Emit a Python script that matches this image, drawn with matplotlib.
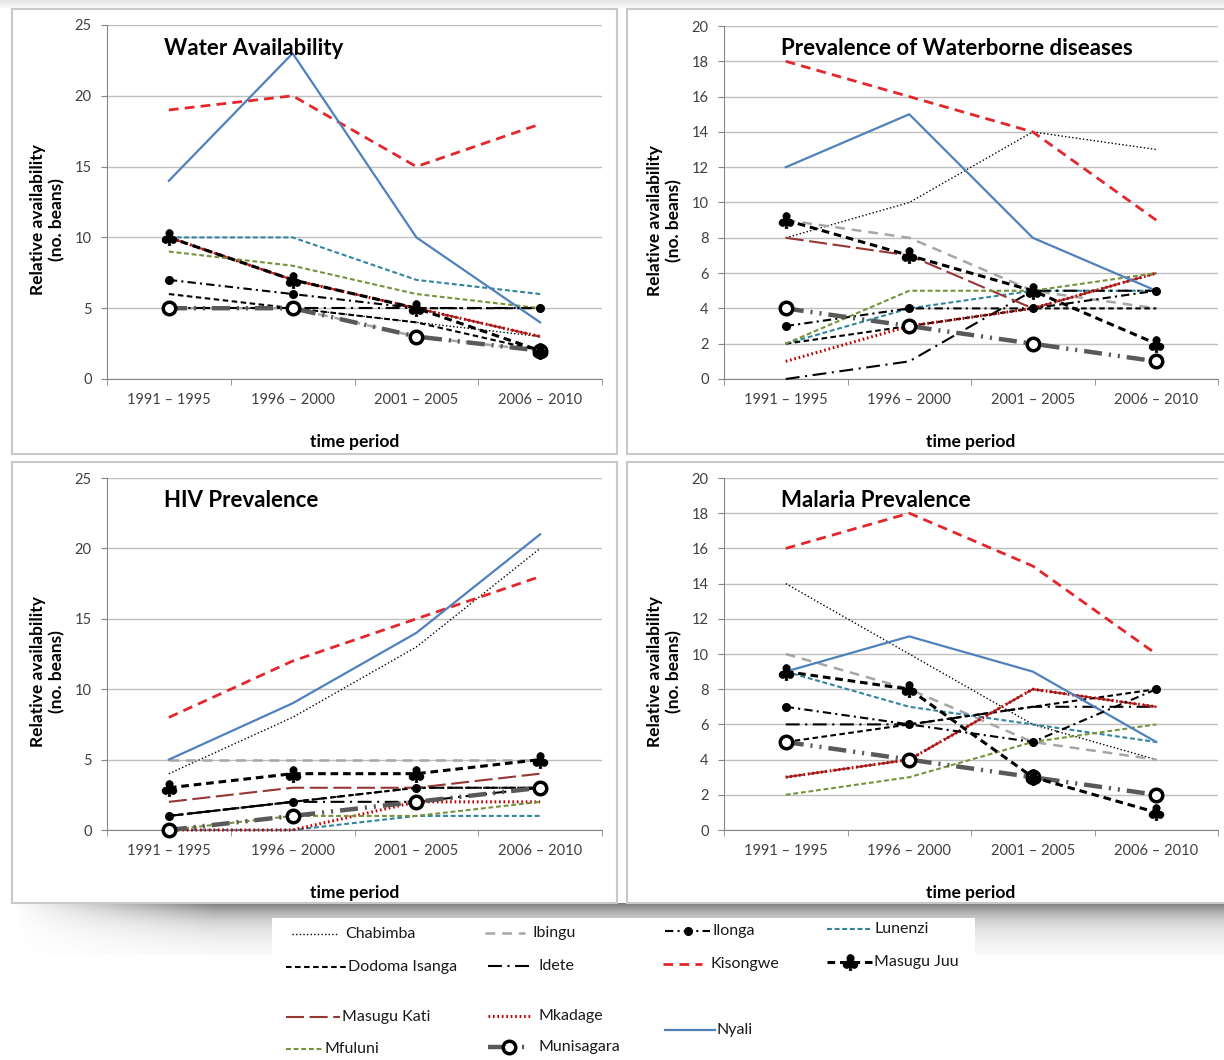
import matplotlib

matplotlib.use("Agg")
import matplotlib.pyplot as plt
import numpy as np
from matplotlib.lines import Line2D
from matplotlib.patches import Rectangle

plt.rcParams["font.family"] = ["Lato", "DejaVu Sans"]
plt.rcParams["lines.scale_dashes"] = False

periods = ["1991 \u2013 1995", "1996 \u2013 2000", "2001 \u2013 2005", "2006 \u2013 2010"]

villages = ["Chabimba", "Ibingu", "Ilonga", "Lunenzi", "Dodoma Isanga", "Idete",
            "Kisongwe", "Masugu Juu", "Masugu Kati", "Mkadage", "Mfuluni",
            "Munisagara", "Nyali"]

water = {
    "Chabimba":      [5, 5, 4, 3],
    "Ibingu":        [5, 5, 3, 2],
    "Ilonga":        [7, 6, 5, 5],
    "Lunenzi":       [10, 10, 7, 6],
    "Dodoma Isanga": [6, 5, 4, 2],
    "Idete":         [5, 5, 5, 5],
    "Kisongwe":      [19, 20, 15, 18],
    "Masugu Juu":    [10, 7, 5, 2],
    "Masugu Kati":   [10, 7, 5, 3],
    "Mkadage":       [10, 7, 5, 3],
    "Mfuluni":       [9, 8, 6, 5],
    "Munisagara":    [5, 5, 3, 2],
    "Nyali":         [14, 23, 10, 4],
}

waterborne = {
    "Chabimba":      [8, 10, 14, 13],
    "Ibingu":        [9, 8, 5, 4],
    "Ilonga":        [3, 4, 4, 5],
    "Lunenzi":       [2, 4, 5, 5],
    "Dodoma Isanga": [2, 3, 4, 4],
    "Idete":         [0, 1, 5, 5],
    "Kisongwe":      [18, 16, 14, 9],
    "Masugu Juu":    [9, 7, 5, 2],
    "Masugu Kati":   [8, 7, 4, 6],
    "Mkadage":       [1, 3, 4, 6],
    "Mfuluni":       [2, 5, 5, 6],
    "Munisagara":    [4, 3, 2, 1],
    "Nyali":         [12, 15, 8, 5],
}

hiv = {
    "Chabimba":      [4, 8, 13, 20],
    "Ibingu":        [5, 5, 5, 5],
    "Ilonga":        [1, 2, 3, 3],
    "Lunenzi":       [0, 0, 1, 1],
    "Dodoma Isanga": [1, 2, 3, 3],
    "Idete":         [1, 2, 2, 3],
    "Kisongwe":      [8, 12, 15, 18],
    "Masugu Juu":    [3, 4, 4, 5],
    "Masugu Kati":   [2, 3, 3, 4],
    "Mkadage":       [0, 0, 2, 2],
    "Mfuluni":       [0, 1, 1, 2],
    "Munisagara":    [0, 1, 2, 3],
    "Nyali":         [5, 9, 14, 21],
}

malaria = {
    "Chabimba":      [14, 10, 6, 4],
    "Ibingu":        [10, 8, 5, 4],
    "Ilonga":        [7, 6, 5, 8],
    "Lunenzi":       [9, 7, 6, 5],
    "Dodoma Isanga": [5, 6, 7, 8],
    "Idete":         [6, 6, 7, 7],
    "Kisongwe":      [16, 18, 15, 10],
    "Masugu Juu":    [9, 8, 3, 1],
    "Masugu Kati":   [3, 4, 8, 7],
    "Mkadage":       [3, 4, 8, 7],
    "Mfuluni":       [2, 3, 5, 6],
    "Munisagara":    [5, 4, 3, 2],
    "Nyali":         [9, 11, 9, 5],
}

CLUB = r"$\clubsuit$"
style = {
    "Chabimba":      dict(color="black", lw=1.0, dashes=(1, 1.6)),
    "Ibingu":        dict(color="#a6a6a6", lw=1.8, dashes=(7, 5)),
    "Ilonga":        dict(color="black", lw=1.5, dashes=(6, 3, 1.5, 3),
                          marker="o", ms=5.5, mfc="black", mec="black"),
    "Lunenzi":       dict(color="#31859c", lw=1.5, dashes=(3.5, 2)),
    "Dodoma Isanga": dict(color="black", lw=1.5, dashes=(4, 2.5)),
    "Idete":         dict(color="black", lw=1.5, dashes=(10, 4, 1.5, 4)),
    "Kisongwe":      dict(color="#e3262b", lw=2.0, dashes=(7, 4.5)),
    "Masugu Juu":    dict(color="black", lw=2.2, dashes=(5.5, 3.5),
                          marker=CLUB, ms=11, mfc="black", mec="black"),
    "Masugu Kati":   dict(color="#953735", lw=1.5, dashes=(13, 4)),
    "Mkadage":       dict(color="#c00000", lw=2.2, dashes=(1.2, 2)),
    "Mfuluni":       dict(color="#76923c", lw=1.5, dashes=(3.5, 2)),
    "Munisagara":    dict(color="#595959", lw=3.2, dashes=(13, 5, 1.5, 5, 1.5, 5),
                          marker="o", ms=9, mfc="white", mec="black", mew=2.5),
    "Nyali":         dict(color="#4f81bd", lw=1.6),
}
zorders = {"Masugu Juu": 6, "Munisagara": 5, "Ilonga": 4}

W, H = 1224, 1060
fig = plt.figure(figsize=(W / 100, H / 100), dpi=100)

# background: panel frames, drop shadow
bg = fig.add_axes([0, 0, 1, 1], zorder=0)
bg.set_xlim(0, W)
bg.set_ylim(H, 0)
bg.axis("off")

top_fade = np.linspace(0.18, 0, 10)[:, None] * np.ones((1, 50))
rgba = np.zeros(top_fade.shape + (4,))
rgba[..., :3] = 0.45
rgba[..., 3] = top_fade
bg.imshow(rgba, extent=(0, W, 10, 0), aspect="auto", zorder=0, interpolation="bilinear")

sh_y = np.linspace(0, 1, 60)
sh_x = np.linspace(0, 1, 400)
vert = 0.8 * np.exp(-3.0 * sh_y)
horiz = np.clip(sh_x * 6, 0, 1)
shadow = np.zeros((60, 400, 4))
shadow[..., :3] = 0.35
shadow[..., 3] = vert[:, None] * horiz[None, :]
bg.imshow(shadow, extent=(12, W, 955, 903), aspect="auto", zorder=1, interpolation="bilinear")

for x0, y0, x1, y1 in [(12, 9, 617, 454), (627, 9, 1240, 454),
                       (12, 462, 617, 903), (627, 462, 1240, 903)]:
    bg.add_patch(Rectangle((x0, y0), x1 - x0, y1 - y0, facecolor="white",
                           edgecolor="#c9c9c9", lw=1.5, zorder=2))

panels = [
    (water, "Water Availability", 25, 5, (107, 25, 602, 379)),
    (waterborne, "Prevalence of Waterborne diseases", 20, 2, (724, 26, 1218, 379)),
    (hiv, "HIV Prevalence", 25, 5, (107, 478, 602, 830)),
    (malaria, "Malaria Prevalence", 20, 2, (724, 478, 1218, 830)),
]

x = np.arange(len(periods))
for data, title, ymax, ystep, (l, t, r, b) in panels:
    ax = fig.add_axes([l / W, 1 - b / H, (r - l) / W, (b - t) / H], zorder=2)
    ax.patch.set_alpha(0)
    for name in villages:
        ax.plot(x, data[name], clip_on=False, zorder=zorders.get(name, 3), **style[name])
    ax.set_xlim(-0.5, len(periods) - 0.5)
    ax.set_ylim(0, ymax)
    ax.set_yticks(np.arange(0, ymax + 1, ystep))
    ax.set_xticks(x)
    ax.set_xticklabels(periods)
    ax.set_xticks(np.arange(-0.5, len(periods)), minor=True)
    ax.tick_params(axis="x", which="major", length=0, pad=10, labelsize=10.5, labelcolor="#404040")
    ax.tick_params(axis="x", which="minor", length=4, color="#868686")
    ax.tick_params(axis="y", length=4, color="#868686", labelsize=10.5, labelcolor="#404040", pad=7)
    ax.grid(axis="y", color="#bfbfbf", lw=1)
    ax.set_axisbelow(True)
    for s in ("top", "right"):
        ax.spines[s].set_visible(False)
    for s in ("left", "bottom"):
        ax.spines[s].set_color("#868686")
    ax.set_ylabel("Relative availability\n(no. beans)", fontsize=12.5, fontweight="bold",
                  linespacing=1.2)
    ax.yaxis.set_label_coords(-0.085, 0.45)
    ax.set_xlabel("time period", fontsize=12.5, fontweight="bold")
    ax.xaxis.set_label_coords(0.5, -0.155)
    ax.text(0.115, 0.935, title, transform=ax.transAxes, fontsize=16,
            fontweight="bold", ha="left", va="center")

# legend panel laid out in pixel space
lg = fig.add_axes([0, 0, 1, 1], zorder=3)
lg.set_xlim(0, W)
lg.set_ylim(H, 0)
lg.axis("off")
lg.add_patch(Rectangle((272, 918), 703, 150, facecolor="white", edgecolor="none"))

legend_slots = {
    "Chabimba":      (292, 337, 934),
    "Ibingu":        (485, 525, 933),
    "Ilonga":        (665, 710, 931),
    "Lunenzi":       (827, 872, 929),
    "Dodoma Isanga": (286, 346, 967),
    "Idete":         (488, 530, 966),
    "Kisongwe":      (663, 702, 964),
    "Masugu Juu":    (827, 872, 962),
    "Masugu Kati":   (286, 340, 1017),
    "Mkadage":       (488, 530, 1016),
    "Nyali":         (665, 715, 1030),
    "Mfuluni":       (286, 322, 1049),
    "Munisagara":    (488, 530, 1047),
}
for name, (xa, xb, yy) in legend_slots.items():
    st = dict(style[name])
    st.pop("marker", None)
    kw = {k: st.pop(k) for k in ("ms", "mfc", "mec", "mew") if k in st}
    lg.add_line(Line2D([xa, xb], [yy, yy], **st))
    if name in ("Ilonga", "Masugu Juu", "Munisagara"):
        lg.add_line(Line2D([(xa + xb) / 2], [yy], marker=style[name]["marker"],
                           linestyle="none", **kw))
    gap = 8 if name in ("Chabimba", "Ibingu", "Idete", "Kisongwe", "Mkadage", "Munisagara") else 2
    lg.text(xb + gap, yy, name, fontsize=11.5, color="#1a1a1a", ha="left", va="center")

fig.savefig("out.png", dpi=100)
